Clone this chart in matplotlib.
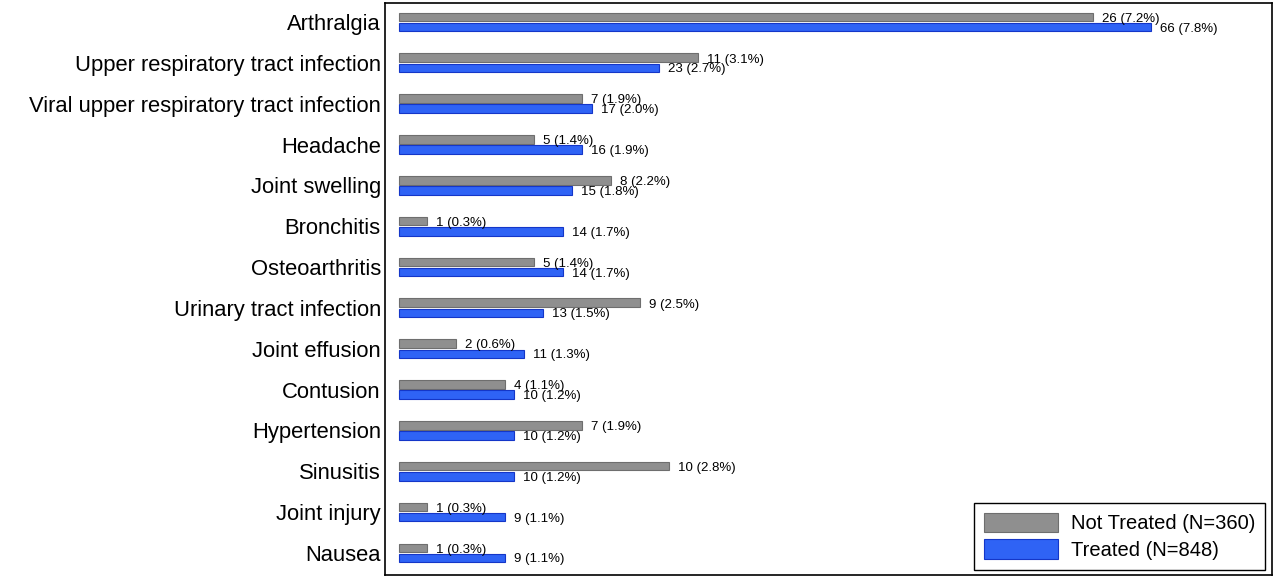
import numpy as np
import matplotlib
matplotlib.use("Agg")
from matplotlib import pyplot as plt

plt.rcParams['font.family'] = ['Liberation Sans', 'DejaVu Sans']

categories = ["Arthralgia", "Upper respiratory tract infection",
              "Viral upper respiratory tract infection", "Headache",
              "Joint swelling", "Bronchitis", "Osteoarthritis",
              "Urinary tract infection", "Joint effusion", "Contusion",
              "Hypertension", "Sinusitis", "Joint injury", "Nausea"]
not_treated_n = [26, 11, 7, 5, 8, 1, 5, 9, 2, 4, 7, 10, 1, 1]
not_treated_pct = [7.2, 3.1, 1.9, 1.4, 2.2, 0.3, 1.4, 2.5, 0.6, 1.1, 1.9, 2.8, 0.3, 0.3]
treated_n = [66, 23, 17, 16, 15, 14, 14, 13, 11, 10, 10, 10, 9, 9]
treated_pct = [7.8, 2.7, 2.0, 1.9, 1.8, 1.7, 1.7, 1.5, 1.3, 1.2, 1.2, 1.2, 1.1, 1.1]
legend_labels = ["Not Treated (N=360)", "Treated (N=848)"]

fig = plt.figure(figsize=(12.8, 5.82), dpi=100)
ax = fig.add_axes([385/1280, 7/582, 887/1280, 572/582])

y = np.arange(len(categories))
h = 0.21
grey = ax.barh(y - 0.125, not_treated_pct, height=h, color='#8f8f8f',
               edgecolor='#6e6e6e', linewidth=0.8, label=legend_labels[0])
blue = ax.barh(y + 0.125, treated_pct, height=h, color='#2f63f5',
               edgecolor='#1436c8', linewidth=0.8, label=legend_labels[1])

# value labels at bar ends
for i in range(len(categories)):
    ax.annotate("{} ({}%)".format(not_treated_n[i], not_treated_pct[i]),
                (not_treated_pct[i], y[i] - 0.08), xytext=(6.5, 0),
                textcoords='offset points', va='center', ha='left', fontsize=9.5)
    ax.annotate("{} ({}%)".format(treated_n[i], treated_pct[i]),
                (treated_pct[i], y[i] + 0.16), xytext=(6.5, 0),
                textcoords='offset points', va='center', ha='left', fontsize=9.5)

ax.set_yticks(y)
ax.set_yticklabels(categories, fontsize=15.8)
ax.tick_params(axis='y', length=0, pad=3)
ax.set_xticks([])
ax.set_xlim(-0.14, 9.05)
ax.set_ylim(13.54, -0.465)
for s in ax.spines.values():
    s.set_linewidth(1.2)

leg = ax.legend(loc='lower right', fontsize=14.5, handlelength=3.7,
                handleheight=1.1, handletextpad=0.6, fancybox=False,
                framealpha=1, edgecolor='black', borderpad=0.5,
                labelspacing=0.3, borderaxespad=0,
                bbox_to_anchor=(1 - 7/887, 5/572))
leg.get_frame().set_linewidth(1.0)

plt.savefig("out.png", dpi=100)
